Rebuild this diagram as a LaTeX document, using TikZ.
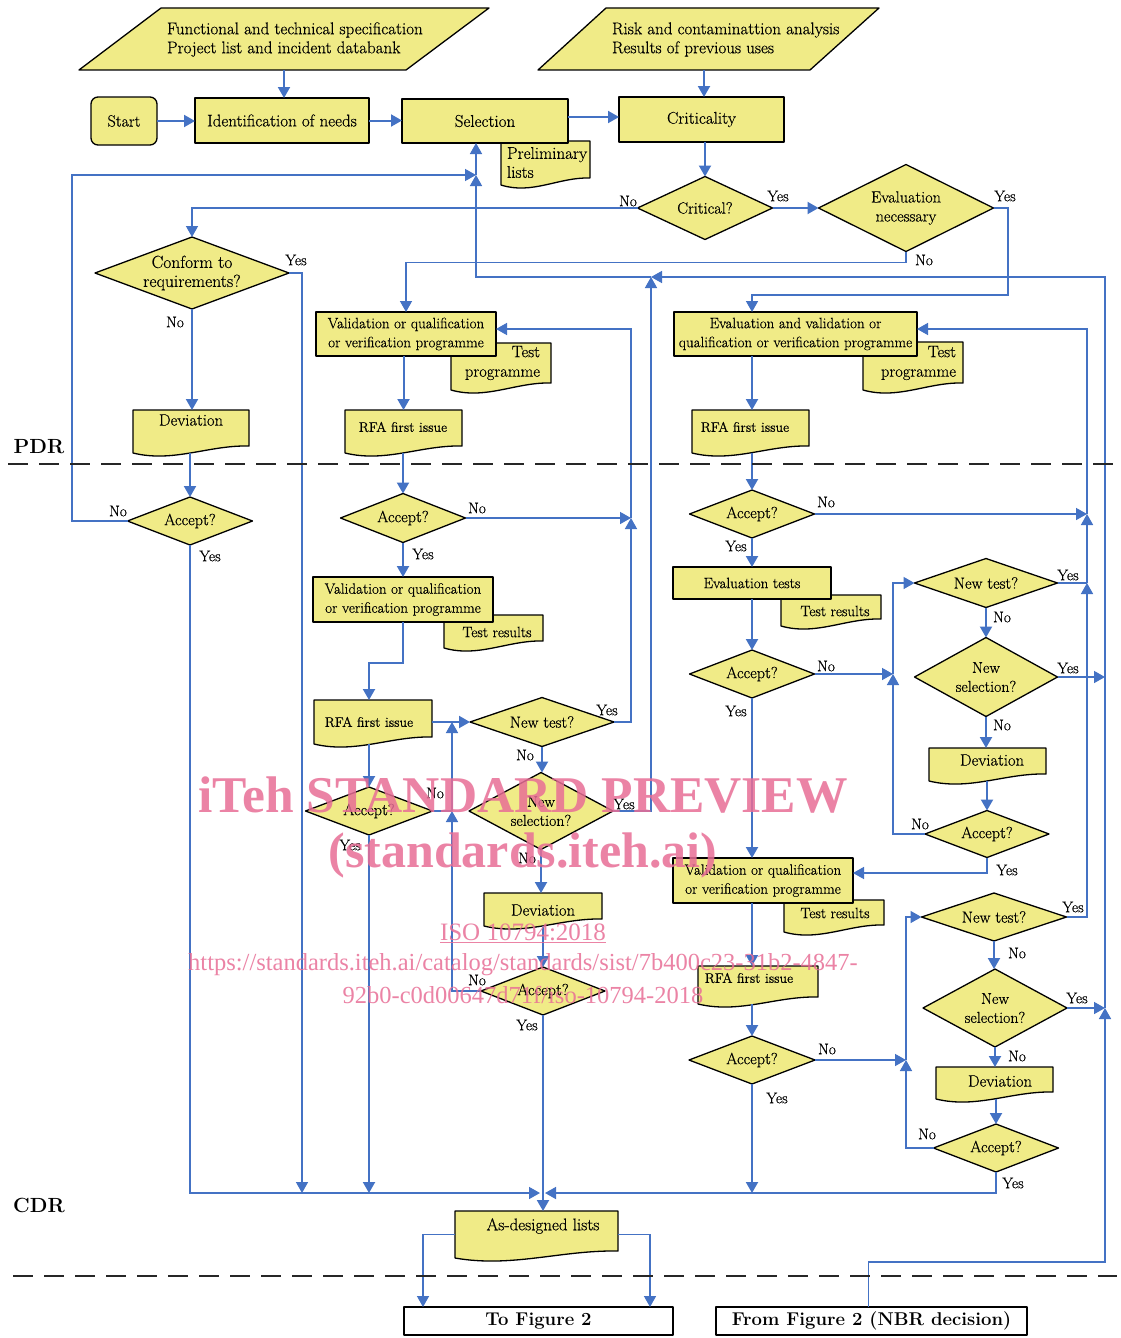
\documentclass[tikz,border=0pt]{standalone}
\usepackage{fontspec}
\newfontfamily\wmfont{Liberation Serif}
\newfontfamily\hv{Latin Modern Roman}[FakeBold=0.4]
\usetikzlibrary{arrows.meta,calc}
\definecolor{fblue}{RGB}{68,114,196}
\definecolor{yel}{RGB}{240,235,135}
\definecolor{wmc}{RGB}{232,110,150}
\newcommand\fA{\hv\fontsize{17}{19}\selectfont}
\newcommand\fB{\hv\fontsize{16.2}{19}\selectfont}
\newcommand\fC{\hv\fontsize{15}{19}\selectfont}
\newcommand\fS{\hv\fontsize{15.8}{19}\selectfont}
\newcommand\fR{\hv\fontsize{13.9}{19}\selectfont}
\newcommand\fD{\hv\fontsize{16.5}{19.5}\selectfont}
\newcommand\fK{\hv\fontsize{17.5}{19}\selectfont}
\newcommand\fL{\hv\fontsize{15.5}{16}\selectfont}
\newcommand\fBig{\fontsize{18.5}{20}\selectfont\bfseries}
\newcommand\fRev{\fontsize{20.5}{22}\selectfont\bfseries}
\tikzset{
  shp/.style={draw=black, line width=1.3pt, fill=yel, line join=round},
  box/.style={shp, inner sep=0pt, outer sep=0pt, align=center, font=\fB},
  txt/.style={inner sep=0pt, outer sep=0pt, align=center, font=\fB},
  anch/.style={inner sep=0pt, outer sep=0pt, align=center, font=\fB},
  labst/.style={inner sep=0pt, font=\fL},
  arrtip/.style={-{Triangle[length=11pt,width=12pt]}},
  flow/.style={draw=fblue, line width=2pt, arrtip},
  thn/.style={draw=fblue, line width=1.5pt},
  thna/.style={thn, arrtip},
  dashsep/.style={draw=black!85, line width=2pt, dash pattern=on 20pt off 11pt},
  wmk/.style={inner sep=0pt, text=wmc, text opacity=0.85},
}
% rectangle box: [opts]{name}{x1}{y1}{x2}{y2}{text}
\newcommand\rbox[7][]{\node[box,minimum width={(#5-#3)*1pt},minimum height={(#6-#4)*1pt},#1] (#2) at ({(#3+#5)/2},{(#4+#6)/2}) {#7};}
% diamond: [opts]{name}{cx}{cy}{w}{h}{text}
\newcommand\dia[7][]{%
  \path[shp] (#3-#5/2,#4) -- (#3,#4-#6/2) -- (#3+#5/2,#4) -- (#3,#4+#6/2) -- cycle;
  \node[anch,minimum width=#5pt,minimum height=#6pt,#1] (#2) at (#3,#4) {#7};}
% document: {name}{x1}{y1}{x2}{yb}
\newcommand\docbox[5]{%
  \path[shp] (#2,#3) -- (#4,#3) -- (#4,#5-7) .. controls ({#4-0.35*(#4-#2)},#5-8) and ({#2+0.35*(#4-#2)},#5+10) .. (#2,#5) -- cycle;
  \node[anch,minimum width={(#4-#2)*1pt},minimum height={(#5-#3)*1pt}] (#1) at ({(#2+#4)/2},{(#3+#5)/2}) {};}
\newcommand\lab[4]{\node[labst] (#1) at (#2,#3) {#4};}

\begin{document}
\begin{tikzpicture}[x=1pt,y=-1pt]
\fill[white] (0,0) rectangle (1121,1338);
\useasboundingbox (0,0) rectangle (1121,1338);

% input parallelograms
\path[shp] (161,8) -- (489,8) -- (406,70) -- (79,70) -- cycle;
\node[txt,anchor=west,align=left,font=\fA] (p1) at (167,39.5) {Functional and technical specification\\Project list and incident databank};
\coordinate (p1s) at (284,70);
\path[shp] (606,8) -- (879,8) -- (810,70) -- (538,70) -- cycle;
\node[txt,anchor=west,align=left,font=\fA] (p2) at (612,39.5) {Risk and contaminattion analysis\\Results of previous uses};
\coordinate (p2s) at (704,70);

% documents lying behind boxes
\docbox{prel}{501}{141}{590}{185}
\node[txt,anchor=west,align=left,font=\fA] (prelt) at (507,162.5) {Preliminary\\lists};
\docbox{tp1}{451}{343}{551}{390}
\node[txt,anchor=east,align=right,font=\fD] (tp1t) at (540,363) {Test\\programme};
\docbox{tp2}{863}{342}{963}{390}
\node[txt,anchor=east,align=right,font=\fD] (tp2t) at (956,363) {Test\\programme};
\docbox{tr1}{444}{615}{543}{648}
\node[txt,font=\fC] (tr1t) at (497,632) {Test results};
\docbox{tr2}{781}{595}{881}{626}
\node[txt,font=\fC] (tr2t) at (835,611) {Test results};
\docbox{tr3}{784}{900}{884}{932}
\node[txt,font=\fC] (tr3t) at (835,913) {Test results};

% rectangles
\rbox[rounded corners=7pt,font=\fB]{start}{91}{97}{157}{145}{Start}
\rbox[font=\fA]{ident}{195}{98}{369}{143}{Identification of needs}
\rbox[font=\fA]{sel}{402}{99}{568}{143}{Selection}
\rbox[font=\fA]{crit}{619}{97}{784}{142}{Criticality}
\rbox[font=\fC]{val1}{316}{312}{496}{356}{Validation or qualification\\or verification programme}
\rbox[font=\fC]{val2}{313}{577}{493}{622}{Validation or qualification\\or verification programme}
\rbox[font=\fC]{evval}{674}{312}{917}{356}{Evaluation and validation or\\qualification or verification programme}
\rbox[font=\fC]{evtests}{673}{567}{831}{599}{Evaluation tests}
\rbox[font=\fC]{val3}{673}{858}{853}{903}{Validation or qualification\\or verification programme}
\rbox[fill=white,font=\fBig]{tofig}{404}{1307}{673}{1335}{To Figure 2}
\rbox[fill=white,font=\fBig]{fromfig}{716}{1307}{1027}{1335}{From Figure 2 (NBR decision)}

% other documents
\docbox{dev1}{133}{410}{249}{453}
\node[txt,font=\fD] (dev1t) at (191,420) {Deviation};
\docbox{rfa1}{345}{410}{462}{453}
\node[txt,font=\fR] (rfa1t) at (403,427) {RFA first issue};
\docbox{rfa2}{314}{700}{432}{744}
\node[txt,font=\fR] (rfa2t) at (369,722) {RFA first issue};
\docbox{dev2}{484}{893}{602}{926}
\node[txt,font=\fD] (dev2t) at (543,910) {Deviation};
\docbox{rfa3}{692}{410}{809}{453}
\node[txt,font=\fR] (rfa3t) at (745,427) {RFA first issue};
\docbox{dev3}{929}{748}{1046}{781}
\node[txt,font=\fD] (dev3t) at (992,760) {Deviation};
\docbox{rfa4}{698}{966}{818}{1004}
\node[txt,font=\fR] (rfa4t) at (749,978) {RFA first issue};
\docbox{dev4}{936}{1067}{1053}{1099}
\node[txt,font=\fD] (dev4t) at (1000,1081) {Deviation};
\docbox{asd}{455}{1211}{618}{1258}
\node[txt,font=\fA] (asdt) at (543,1226) {As-designed lists};

% decisions
\dia[font=\fK]{conf}{192}{273}{194}{72}{Conform to\\requirements?}
\dia{critd}{705}{208}{135}{63}{Critical?}
\dia{evaln}{906}{208}{175}{87}{Evaluation\\necessary}
\dia{acc1}{190}{521}{125}{48}{Accept?}
\dia{acc2}{403}{518}{125}{49}{Accept?}
\dia{nt1}{542}{722}{144}{49}{New test?}
\dia[font=\fS]{ns1}{541}{811}{144}{77}{New\\selection?}
\dia{acc3}{369}{811}{127}{48}{Accept?}
\dia{acc4}{543}{991}{124}{48}{Accept?}
\dia{acc5}{752}{514}{125}{48}{Accept?}
\dia{acc6}{752}{674}{125}{48}{Accept?}
\dia{nt2}{986}{583}{143}{49}{New test?}
\dia[font=\fS]{ns2}{986}{677}{143}{79}{New\\selection?}
\dia{acc7}{987}{834}{124}{47}{Accept?}
\dia{nt3}{994}{917}{145}{48}{New test?}
\dia[font=\fS]{ns3}{995}{1008}{144}{78}{New\\selection?}
\dia{acc8}{752}{1060}{126}{48}{Accept?}
\dia{acc9}{996}{1148}{125}{48}{Accept?}

% junctions
\coordinate (J1) at (476,175);
\coordinate (J2) at (651,277);
\coordinate (J3) at (631,518);
\coordinate (J4) at (452,811);
\coordinate (J5) at (452,722);
\coordinate (J6) at (1087,514);
\coordinate (J7) at (893,674);
\coordinate (J8) at (1087,583);
\coordinate (J9) at (1105,677);
\coordinate (J10) at (906,1060);
\coordinate (J11) at (1105,1008);
\coordinate (CL) at (540,1193);
\coordinate (CR) at (545,1193);

% top connectors
\draw[flow] (p1s) -- (p1s |- ident.north);
\draw[flow] (p2s) -- (p2s |- crit.north);
\draw[flow] (start.east) -- (start.east -| ident.west);
\draw[flow] (ident.east) -- (ident.east -| sel.west);
\draw[flow] ($(sel.east)+(0,-4)$) -- ($(sel.east -| crit.west)+(0,-4)$);
\draw[flow] (critd.north |- crit.south) -- (critd.north);
\draw[flow] (critd.east) -- (evaln.west);
\draw[thna] (critd.west) -| (conf.north);
\draw[thna] (evaln.east) -| (1008,295) -| ($(evval.north west)+(78,0)$);
\draw[thna] (evaln.south) -- ++(0,11) -| (val1.north);

% left column
\draw[thna] (conf.east) -| (302,1193);
\draw[flow] (conf.south) -- (conf.south |- dev1.north);
\draw[flow] (acc1.north |- dev1.south) -- (acc1.north);
\draw[thna] (acc1.west) -| (72,175) -- (J1);
\draw[thna] (acc1.south) |- (CL);

% return path from Figure 2
\draw[thna] ($(fromfig.north)+(-3,0)$) |- (1105,1262) -- (J11);
\draw[thna] (J11) -- (1105,277) -- (J2);
\draw[thna] (J2) -| (J1);
\draw[thna] (J1) -- (J1 |- sel.south);

% middle column
\draw[flow] (rfa1.north |- val1.south) -- (rfa1.north);
\draw[flow] (acc2.north |- rfa1.south) -- (acc2.north);
\draw[thna] (acc2.east) -- (J3);
\draw[flow] (acc2.south) -- (acc2.south |- val2.north);
\draw[flow] (val2.south) -- ++(0,41) -| (acc3.north |- rfa2.north);
\draw[flow] (acc3.north |- rfa2.south) -- (acc3.north);
\draw[flow] (rfa2.east) -- (nt1.west);
\draw[thna] (nt1.east) -| (J3);
\draw[thna] (J3) -- (631,329) -- (631,329 -| val1.east);
\draw[flow] (nt1.south) -- (nt1.south |- ns1.north);
\draw[thna] (ns1.east) -| (J2);
\draw[flow] (ns1.south) -- (ns1.south |- dev2.north);
\draw[flow] (acc4.north |- dev2.south) -- (acc4.north);
\draw[thna] (acc4.west) -| (J4);
\draw[thna] (J4) -- (J5);
\draw[thn] (acc3.east) -- (J4);
\draw[flow] (acc3.south) -- (acc3.south |- CL);
\draw[flow] (acc4.south) -- (acc4.south |- asd.north);
\draw[thna] (asd.west) -| (tofig.north -| 423,0);
\draw[thna] (asd.east) -| (tofig.north -| 650,0);

% right column
\draw[flow] (acc5.north |- evval.south) -- (acc5.north |- rfa3.north);
\draw[flow] (acc5.north |- rfa3.south) -- (acc5.north);
\draw[thna] (acc5.east) -- (J6);
\draw[flow] (acc5.south) -- (acc5.south |- evtests.north);
\draw[flow] (acc6.north |- evtests.south) -- (acc6.north);
\draw[thna] (acc6.east) -- (J7);
\draw[flow] (acc6.south) -- (acc6.south |- val3.north);
\draw[thna] (acc7.west) -| (J7);
\draw[thna] (J7) |- (nt2.west);
\draw[thn] (nt2.east) -- (J8);
\draw[thna] (nt3.east) -| (J8);
\draw[thna] (J8) -- (J6);
\draw[thna] (J6) -- (1087,329) -- (1087,329 -| evval.east);
\draw[flow] (nt2.south) -- (nt2.south |- ns2.north);
\draw[thna] (ns2.east) -- (J9);
\draw[flow] (ns2.south) -- (ns2.south |- dev3.north);
\draw[flow] (acc7.north |- dev3.south) -- (acc7.north);
\draw[thna] (acc7.south) |- (val3.east |- 0,873);
\draw[flow] (acc8.north |- val3.south) -- (acc8.north |- rfa4.north);
\draw[flow] (acc8.north |- rfa4.south) -- (acc8.north);
\draw[thna] (acc8.east) -- (J10);
\draw[flow] (acc8.south) -- (acc8.south |- CL);
\draw[thna] (acc9.west) -| (J10);
\draw[thna] (J10) |- (nt3.west);
\draw[flow] (nt3.south) -- (nt3.south |- ns3.north);
\draw[thna] (ns3.east) -- (J11);
\draw[flow] (ns3.south) -- (ns3.south |- dev4.north);
\draw[flow] (acc9.north |- dev4.south) -- (acc9.north);
\draw[thna] (acc9.south) |- (CR);

% Yes / No labels
\lab{yc1}{296}{260}{Yes} \lab{nc1}{175}{322}{No}
\lab{nk1}{628}{201}{No} \lab{yk1}{778}{196}{Yes}
\lab{ye1}{1005}{196}{Yes} \lab{ne1}{924}{260}{No}
\lab{na1}{118}{511}{No} \lab{ya1}{210}{556}{Yes}
\lab{na2}{477}{508}{No} \lab{ya2}{423}{554}{Yes}
\lab{yt1}{607}{710}{Yes} \lab{ntl1}{525}{755}{No}
\lab{ys1}{624}{804}{Yes} \lab{nsl1}{527}{858}{No}
\lab{na3}{435}{793}{No} \lab{ya3}{350}{845}{Yes}
\lab{na4}{477}{980}{No} \lab{ya4}{527}{1025}{Yes}
\lab{na5}{826}{502}{No} \lab{ya5}{736}{546}{Yes}
\lab{na6}{826}{666}{No} \lab{ya6}{736}{711}{Yes}
\lab{yt2}{1068}{575}{Yes} \lab{ntl2}{1002}{617}{No}
\lab{ys2}{1068}{668}{Yes} \lab{nsl2}{1002}{725}{No}
\lab{na7}{920}{824}{No} \lab{ya7}{1007}{870}{Yes}
\lab{yt3}{1073}{907}{Yes} \lab{ntl3}{1017}{953}{No}
\lab{ys3}{1077}{998}{Yes} \lab{nsl3}{1017}{1056}{No}
\lab{na8}{827}{1049}{No} \lab{ya8}{777}{1098}{Yes}
\lab{na9}{927}{1134}{No} \lab{ya9}{1013}{1183}{Yes}

% review lines
\draw[dashsep] (8,464) -- (1115,464);
\draw[dashsep] (13,1276) -- (1117,1276);
\node[inner sep=0pt,font=\fRev] (pdr) at (39,447) {PDR};
\node[inner sep=0pt,font=\fRev] (cdr) at (39,1205) {CDR};

% watermark
\node[wmk,font=\wmfont\fontsize{51.5}{50}\selectfont\bfseries] (wm1) at (523,795) {iTeh STANDARD PREVIEW};
\node[wmk,font=\wmfont\fontsize{50}{50}\selectfont\bfseries] (wm2) at (523,855) {(standards.iteh.ai)};
\node[wmk,font=\wmfont\fontsize{25}{25}\selectfont] (wm3) at (523,933) {\underline{ISO 10794:2018}};
\node[wmk,font=\wmfont\fontsize{24.5}{25}\selectfont] (wm4) at (523,965) {https://standards.iteh.ai/catalog/standards/sist/7b400c23-31b2-4847-};
\node[wmk,font=\wmfont\fontsize{24.5}{25}\selectfont] (wm5) at (523,995) {92b0-c0d00647d71f/iso-10794-2018};
\end{tikzpicture}
\end{document}
